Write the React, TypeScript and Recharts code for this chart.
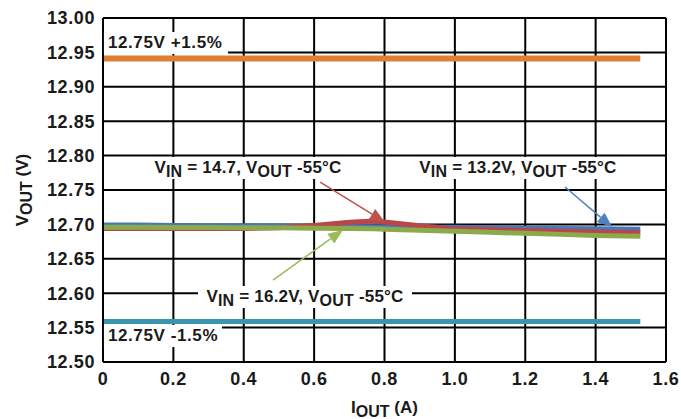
import React from 'react';
import {
  LineChart,
  Line,
  XAxis,
  YAxis,
  CartesianGrid,
  ReferenceLine,
  ReferenceDot
} from 'recharts';

// output current (A)
const currents = [0, 0.1, 0.2, 0.3, 0.4, 0.5, 0.6, 0.7, 0.77, 0.8, 0.9, 1.0, 1.1, 1.2, 1.3, 1.4, 1.527];
// VOUT at -55°C for each input voltage
const vin132 = [12.699, 12.699, 12.6985, 12.698, 12.698, 12.6975, 12.697, 12.697, 12.6965, 12.6965, 12.696, 12.696, 12.695, 12.6945, 12.694, 12.6935, 12.693];
const vin147 = [12.694, 12.694, 12.694, 12.694, 12.694, 12.695, 12.6985, 12.703, 12.705, 12.7035, 12.698, 12.6935, 12.6925, 12.691, 12.69, 12.689, 12.688];
const vin162 = [12.696, 12.696, 12.6955, 12.6955, 12.695, 12.695, 12.6945, 12.694, 12.6935, 12.693, 12.6915, 12.69, 12.6885, 12.687, 12.6855, 12.684, 12.6826];
// tolerance limits: 12.75V +/- 1.5%
const upperLimit = 12.941;
const lowerLimit = 12.559;

const xTicks = [0, 0.2, 0.4, 0.6, 0.8, 1.0, 1.2, 1.4, 1.6];
const yTicks = [12.5, 12.55, 12.6, 12.65, 12.7, 12.75, 12.8, 12.85, 12.9, 12.95, 13.0];

const chartData = currents.map((iout, i) => ({
  iout,
  vin132: vin132[i],
  vin147: vin147[i],
  vin162: vin162[i],
  upper: upperLimit,
  lower: lowerLimit
}));

const FONT = '"Liberation Sans", Arial, sans-serif';
const FS = 17;

type Part = [string, boolean];

const sub = (text: string, value: string): Part[] => [
  ['V', false], [text, true], [value, false], ['OUT', true], [' -55°C', false]
];

const renderParts = (parts: Part[]) => {
  let down = false;
  return parts.map(([t, isSub], i) => {
    let dy = 0;
    if (isSub && !down) { dy = 4; down = true; }
    else if (!isSub && down) { dy = -4; down = false; }
    return (
      <tspan key={i} dy={dy} fontSize={isSub ? FS - 1 : FS}>{t}</tspan>
    );
  });
};

const TextBox = ({ cx, cy, parts, w, anchor, spacing }: any) => {
  if (cx == null || cy == null) return null;
  const left = anchor === 'start' ? cx - 4 : cx - w / 2;
  return (
    <g>
      <rect x={left} y={cy - 11} width={w} height={22} fill="#fff" />
      <text
        x={cx}
        y={cy + 5}
        textAnchor={anchor || 'middle'}
        fontFamily={FONT}
        fontWeight="bold"
        fontSize={FS}
        letterSpacing={spacing || 0}
        fill="#1a1a1a"
      >
        {renderParts(parts)}
      </text>
    </g>
  );
};

const Arrow = ({ x1, y1, x2, y2, color }: any) => {
  if (x1 == null) return null;
  const ang = Math.atan2(y2 - y1, x2 - x1);
  const len = 15;
  const half = 6;
  const bx = x2 - len * Math.cos(ang);
  const by = y2 - len * Math.sin(ang);
  const px = -Math.sin(ang) * half;
  const py = Math.cos(ang) * half;
  return (
    <g>
      <line x1={x1} y1={y1} x2={bx} y2={by} stroke={color} strokeWidth={1.5} />
      <polygon points={`${x2},${y2} ${bx + px},${by + py} ${bx - px},${by - py}`} fill={color} />
    </g>
  );
};

const YLabel = ({ viewBox }: any) => {
  const cx = 22;
  const cy = viewBox.y + viewBox.height / 2;
  return (
    <text
      x={cx}
      y={cy}
      transform={`rotate(-90, ${cx}, ${cy})`}
      textAnchor="middle"
      dominantBaseline="central"
      fontFamily={FONT}
      fontWeight="bold"
      fontSize={FS}
      fill="#1a1a1a"
    >
      <tspan>V</tspan>
      <tspan dy={4} fontSize={FS - 1}>OUT</tspan>
      <tspan dy={-4}> (V)</tspan>
    </text>
  );
};

const XLabel = ({ viewBox }: any) => {
  const cx = viewBox.x + viewBox.width / 2;
  const y = viewBox.y + 51;
  return (
    <text x={cx} y={y} textAnchor="middle" fontFamily={FONT} fontWeight="bold" fontSize={FS} fill="#1a1a1a">
      <tspan>I</tspan>
      <tspan dy={4} fontSize={FS - 1}>OUT</tspan>
      <tspan dy={-4}> (A)</tspan>
    </text>
  );
};

const tickStyle = { fill: '#1a1a1a', fontFamily: FONT, fontWeight: 'bold', fontSize: 18, letterSpacing: 0.6 };

export default function App() {
  return (
    <div style={{ position: 'absolute', left: 0, top: 0, width: 681, height: 419, background: '#fff' }}>
      <LineChart width={681} height={419} data={chartData} margin={{ top: 18, right: 15, bottom: 0, left: 0 }}>
        <CartesianGrid stroke="#000" strokeWidth={2} />
        <XAxis
          dataKey="iout"
          type="number"
          domain={[0, 1.6]}
          ticks={xTicks}
          tickFormatter={(v: number) => (v === 0 ? '0' : v.toFixed(1))}
          height={57}
          stroke="#000"
          strokeWidth={2}
          tickSize={0}
          tickMargin={10}
          tick={tickStyle}
          interval={0}
          label={<XLabel />}
        />
        <YAxis
          type="number"
          domain={[12.5, 13.0]}
          ticks={yTicks}
          tickFormatter={(v: number) => v.toFixed(2)}
          width={103}
          stroke="#000"
          strokeWidth={2}
          tickSize={0}
          tickMargin={8}
          tick={tickStyle}
          interval={0}
          label={<YLabel />}
        />
        <Line dataKey="upper" stroke="#DD8033" strokeWidth={6} dot={false} isAnimationActive={false} />
        <Line dataKey="lower" stroke="#3A96AE" strokeWidth={5} dot={false} isAnimationActive={false} />
        <Line dataKey="vin132" stroke="#4A76B8" strokeWidth={5} dot={false} isAnimationActive={false} />
        <Line dataKey="vin147" stroke="#B8474A" strokeWidth={5} dot={false} isAnimationActive={false} />
        <Line dataKey="vin162" stroke="#8AAA4C" strokeWidth={5} dot={false} isAnimationActive={false} />

        <ReferenceLine segment={[{ x: 0.617, y: 12.7616 }, { x: 0.801, y: 12.7035 }]} shape={(p: any) => <Arrow {...p} color="#C0504D" />} />
        <ReferenceLine segment={[{ x: 1.313, y: 12.7544 }, { x: 1.447, y: 12.6962 }]} shape={(p: any) => <Arrow {...p} color="#4F81BD" />} />
        <ReferenceLine segment={[{ x: 0.483, y: 12.619 }, { x: 0.682, y: 12.6919 }]} shape={(p: any) => <Arrow {...p} color="#9BBB59" />} />

        <ReferenceDot x={0.014} y={12.9637} shape={(p: any) => <TextBox {...p} w={124} spacing={0.6} anchor="start" parts={[['12.75V +1.5%', false]]} />} />
        <ReferenceDot x={0.014} y={12.5378} shape={(p: any) => <TextBox {...p} w={118} spacing={0.6} anchor="start" parts={[['12.75V -1.5%', false]]} />} />
        <ReferenceDot x={0.412} y={12.782} shape={(p: any) => <TextBox {...p} w={204} spacing={0.2} parts={sub('IN', ' = 14.7, V')} />} />
        <ReferenceDot x={1.179} y={12.782} shape={(p: any) => <TextBox {...p} w={214} spacing={0.2} parts={sub('IN', ' = 13.2V, V')} />} />
        <ReferenceDot x={0.574} y={12.5945} shape={(p: any) => <TextBox {...p} w={214} spacing={0.2} parts={sub('IN', ' = 16.2V, V')} />} />
      </LineChart>
    </div>
  );
}
